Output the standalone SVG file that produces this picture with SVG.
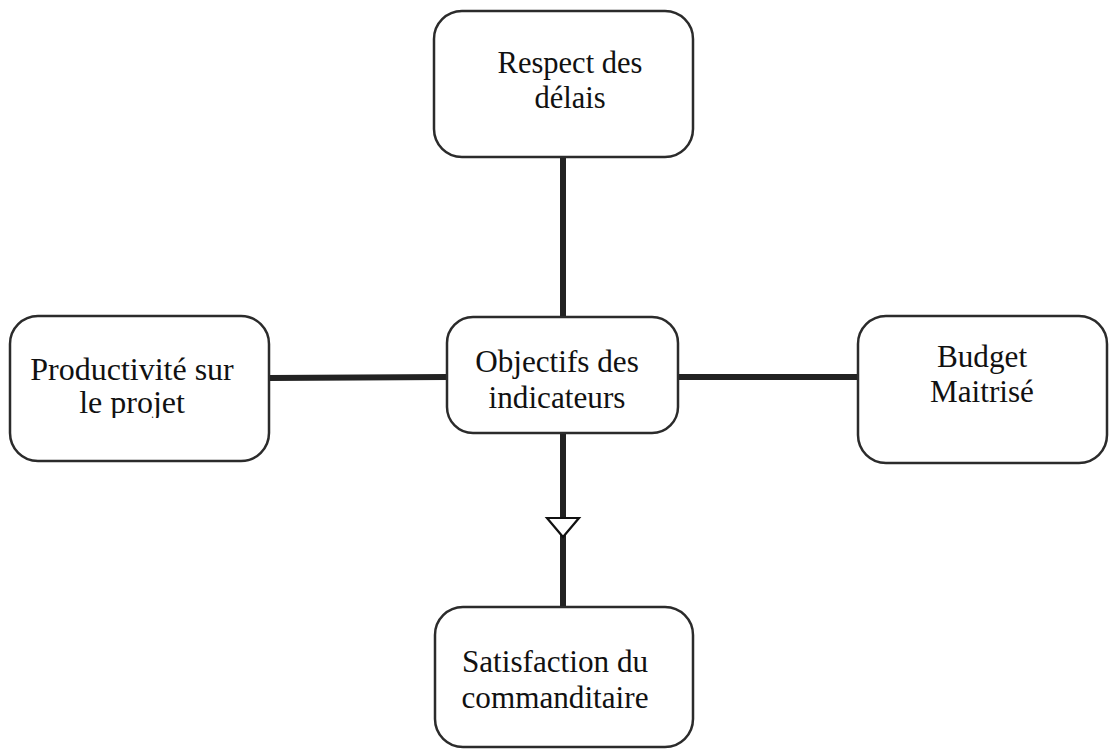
<svg xmlns="http://www.w3.org/2000/svg" width="1111" height="749" viewBox="0 0 1111 749">
<style>
.box{fill:#fff;stroke:#2b2b2b;stroke-width:2.5}
.t{font-family:"Liberation Serif","Times New Roman",serif;font-size:31.2px;fill:#111;text-anchor:middle}
.c{stroke:#222;stroke-width:6;fill:none}
</style>
<defs>
<clipPath id="clipL"><rect x="0" y="300" width="300" height="118"/></clipPath>
</defs>
<rect width="1111" height="749" fill="#fff"/>
<g id="connectors">
<line class="c" x1="563" y1="157" x2="563" y2="318"/>
<line class="c" x1="269" y1="378" x2="447" y2="377"/>
<line class="c" x1="678" y1="377" x2="858" y2="377"/>
<line class="c" x1="563" y1="433" x2="563" y2="607"/>
<polygon points="547,518 579,518 563,537" fill="#fff" stroke="#111" stroke-width="2.2"/>
</g>
<g id="n_top">
<rect class="box" x="434" y="11" width="259" height="146" rx="28"/>
<text class="t" x="570" y="73" style="font-size:30.5px">Respect des</text>
<text class="t" x="570" y="108" style="font-size:30.5px">délais</text>
</g>
<g id="n_left">
<rect class="box" x="10" y="316" width="259" height="145" rx="28"/>
<g clip-path="url(#clipL)">
<text class="t" x="132" y="380" style="font-size:32px">Productivité sur</text>
<text class="t" x="132" y="413" style="font-size:32px">le projet</text>
</g>
</g>
<g id="n_center">
<rect class="box" x="447" y="317" width="231" height="116" rx="26"/>
<text class="t" x="557" y="372">Objectifs des</text>
<text class="t" x="557" y="408">indicateurs</text>
</g>
<g id="n_right">
<rect class="box" x="858" y="316" width="249" height="147" rx="28"/>
<text class="t" x="982" y="367">Budget</text>
<text class="t" x="982" y="402">Maitrisé</text>
</g>
<g id="n_bottom">
<rect class="box" x="435" y="607" width="258" height="140" rx="28"/>
<text class="t" x="555" y="672">Satisfaction du</text>
<text class="t" x="555" y="708">commanditaire</text>
</g>
</svg>
